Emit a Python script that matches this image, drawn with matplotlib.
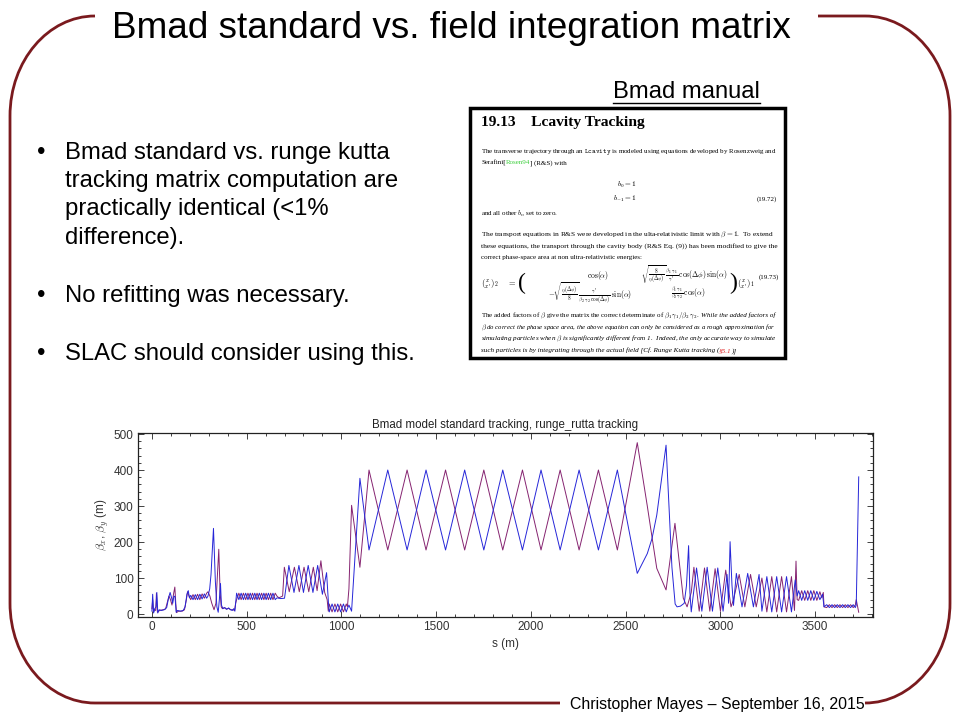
import matplotlib
matplotlib.use('Agg')
import matplotlib.pyplot as plt
from matplotlib.patches import Rectangle, PathPatch
from matplotlib.path import Path
from matplotlib.ticker import MultipleLocator

plt.rcParams['font.family'] = ['Liberation Sans', 'DejaVu Sans']
plt.rcParams['mathtext.fontset'] = 'cm'

# ---------------- data ----------------
blue_pts = [
    (0, 8), (4, 55), (9, 3), (15, 15), (22, 20), (26, 60), (31, 3), (38, 12), (50, 10), (65, 12), (78, 18),
    (88, 45), (96, 60), (104, 45), (110, 30), (116, 50), (122, 48), (128, 5), (135, 10), (150, 8), (165, 10),
    (175, 20), (185, 55), (192, 65), (198, 45),
    (205, 52), (217, 40), (229, 54), (241, 40), (253, 55), (265, 42), (277, 56), (289, 44),
    (296, 50), (305, 70), (312, 110), (325, 238), (335, 90),
    (343, 20), (350, 5), (356, 40), (362, 85), (367, 25), (375, 15), (385, 18), (395, 13), (405, 17), (415, 12),
    (425, 10), (432, 15), (438, 8),
    (447, 58), (459, 40), (471, 58), (483, 40), (495, 58), (507, 40), (519, 58), (531, 40), (543, 58),
    (555, 40), (567, 58), (579, 40), (591, 58), (603, 40), (615, 58), (627, 40), (639, 58), (651, 40),
    (660, 45), (680, 43), (700, 44), (723, 135), (750, 60), (776, 135), (800, 60), (825, 135), (850, 60),
    (875, 135), (900, 55), (922, 115), (932, 30), (936, 6),
    (951, 28), (966, 6), (981, 28), (996, 6), (1011, 28), (1026, 6),
    (1032, 15), (1040, 25), (1048, 15), (1054, 8), (1098, 377), (1146, 178), (1245, 400), (1347, 178),
    (1447, 400), (1550, 178), (1651, 400), (1752, 178), (1852, 400), (1956, 178), (2054, 400), (2155, 178),
    (2255, 400), (2357, 178), (2457, 400), (2562, 113), (2615, 168), (2640, 210), (2665, 275), (2714, 469),
    (2745, 130), (2762, 28), (2772, 20), (2790, 22), (2810, 30), (2822, 80), (2833, 190), (2840, 60), (2847, 6),
    (2875, 128), (2903, 8), (2931, 130), (2959, 8), (2987, 128), (3015, 8), (3036, 110), (3044, 30),
    (3052, 201), (3062, 80), (3070, 24),
    (3085, 113), (3115, 20), (3145, 113), (3175, 20), (3205, 110), (3220, 8),
    (3246, 104), (3272, 6), (3298, 104), (3324, 6), (3350, 104), (3376, 6), (3396, 95), (3406, 50),
    (3414, 65), (3430, 38), (3446, 65), (3462, 38), (3478, 65), (3494, 38), (3510, 63), (3526, 40),
    (3540, 55), (3548, 20),
    (3562, 26), (3576, 18), (3590, 26), (3604, 18), (3618, 26), (3632, 18), (3646, 26), (3660, 18),
    (3674, 26), (3688, 18), (3702, 26), (3713, 18),
    (3718, 25), (3731, 381),
]

purple_pts = [
    (0, 15), (4, 40), (8, 5), (14, 12), (20, 10), (24, 58), (29, 5), (40, 10), (60, 12), (72, 14), (80, 30),
    (90, 50), (98, 40), (106, 25), (114, 55), (121, 75), (126, 30), (130, 4), (140, 8), (160, 8), (172, 12),
    (182, 40), (188, 62), (196, 50),
    (205, 40), (217, 54), (229, 40), (241, 55), (253, 40), (265, 56), (277, 44), (289, 58),
    (296, 62), (306, 50), (316, 30), (328, 12), (338, 30),
    (346, 110), (353, 180), (360, 60), (366, 20), (372, 15), (382, 18), (392, 14), (404, 16), (416, 12),
    (428, 12), (436, 10), (442, 30),
    (447, 40), (459, 58), (471, 40), (483, 58), (495, 40), (507, 58), (519, 40), (531, 58), (543, 40),
    (555, 58), (567, 40), (579, 58), (591, 40), (603, 58), (615, 40), (627, 58), (639, 40), (651, 58),
    (660, 50), (670, 45), (690, 50), (699, 130), (725, 62), (752, 130), (778, 62), (803, 130), (828, 62),
    (852, 130), (872, 65), (892, 148), (912, 60), (925, 40), (931, 8),
    (936, 28), (951, 6), (966, 28), (981, 6), (996, 28), (1011, 6), (1026, 28),
    (1032, 20), (1040, 70), (1054, 302), (1098, 130), (1146, 400), (1245, 178), (1347, 400), (1447, 178),
    (1550, 400), (1651, 178), (1752, 400), (1852, 178), (1956, 400), (2054, 178), (2155, 400), (2255, 178),
    (2357, 400), (2457, 178), (2562, 476), (2615, 300), (2665, 127), (2714, 67), (2761, 252), (2805, 44),
    (2825, 20), (2847, 60),
    (2861, 130), (2889, 8), (2917, 128), (2945, 8), (2973, 126), (3001, 8), (3029, 122), (3057, 20),
    (3070, 40),
    (3100, 110), (3130, 20), (3160, 110), (3190, 20), (3220, 100),
    (3246, 6), (3272, 104), (3298, 6), (3324, 104), (3350, 6), (3376, 104), (3392, 10), (3400, 147),
    (3406, 40),
    (3414, 38), (3430, 65), (3446, 38), (3462, 65), (3478, 38), (3494, 65), (3510, 38), (3526, 62),
    (3536, 45), (3544, 60), (3548, 20),
    (3562, 18), (3576, 26), (3590, 18), (3604, 26), (3618, 18), (3632, 26), (3646, 18), (3660, 26),
    (3674, 18), (3688, 26), (3702, 18), (3713, 25),
    (3718, 40), (3731, 5),
]

x_ticks = [0, 500, 1000, 1500, 2000, 2500, 3000, 3500]
y_ticks = [0, 100, 200, 300, 400, 500]

slide_title = "Bmad standard vs. field integration matrix"
bullets = [
    ["Bmad standard vs. runge kutta", "tracking matrix computation are",
     "practically identical (<1%", "difference)."],
    ["No refitting was necessary."],
    ["SLAC should consider using this."],
]
chart_title = "Bmad model standard tracking, runge_rutta tracking"
footer = "Christopher Mayes \u2013 September 16, 2015"

BLUE = '#2626d8'
PURPLE = '#852370'
FRAME = '#7a1a1e'

# ---------------- figure ----------------
fig = plt.figure(figsize=(9.6, 7.2), dpi=100)
fig.patch.set_facecolor('white')
bg = fig.add_axes([0, 0, 1, 1])
bg.set_xlim(0, 960)
bg.set_ylim(720, 0)
bg.axis('off')
R = fig.canvas.get_renderer()


def put(x, y, pieces, width=None, size=None, gap=0.0, va='baseline', ha='left'):
    ws = []
    for s, kw in pieces:
        t = bg.text(0, 0, s, fontsize=10, **kw)
        ws.append(t.get_window_extent(R).width)
        t.remove()
    g10 = gap * 10 * 100 / 72
    total10 = sum(ws) + g10 * (len(pieces) - 1)
    f = width / total10 if width is not None else size / 10.0
    if ha == 'center':
        cx = x - total10 * f / 2
    elif ha == 'right':
        cx = x - total10 * f
    else:
        cx = x
    for (s, kw), w in zip(pieces, ws):
        bg.text(cx, y, s, fontsize=10 * f, va=va, ha='left', **kw)
        cx += (w + g10) * f
    return 10 * f


# frame
k = 0.5523
rx, ry = 85, 100
L, Rt, T, B = 10, 950, 16, 703
codes = [Path.MOVETO, Path.LINETO, Path.CURVE4, Path.CURVE4, Path.CURVE4,
         Path.LINETO, Path.CURVE4, Path.CURVE4, Path.CURVE4]
right_v = [(818, T), (Rt - rx, T), (Rt - rx + rx * k, T), (Rt, T + ry - ry * k), (Rt, T + ry),
           (Rt, B - ry), (Rt, B - ry + ry * k), (Rt - rx + rx * k, B), (Rt - rx, B)]
left_v = [(560, B), (L + rx, B), (L + rx - rx * k, B), (L, B - ry + ry * k), (L, B - ry),
          (L, T + ry), (L, T + ry - ry * k), (L + rx - rx * k, T), (L + rx, T)]
for v in (right_v, left_v):
    bg.add_patch(PathPatch(Path(v, codes), fill=False, edgecolor=FRAME, lw=2.0))

# slide title
put(112, 28, [(slide_title, {})], width=683, va='center')

# bullets
bsize = put(65, 153, [(bullets[0][0], {})], width=327, va='center')
ys = [[153, 181, 209, 238], [296], [354]]
for gi, (group, yy) in enumerate(zip(bullets, ys)):
    bg.text(37, yy[0], '\u2022', fontsize=bsize, va='center', ha='left')
    for i, (txt, y) in enumerate(zip(group, yy)):
        if gi == 0 and i == 0:
            continue
        bg.text(65, y, txt, fontsize=bsize, va='center', ha='left')

# Bmad manual label
put(613, 92, [("Bmad manual", {})], width=147, va='center')
bg.plot([613, 760], [103, 103], color='black', lw=1.0)

# manual box
bg.add_patch(Rectangle((470, 108), 315, 250, facecolor='white', edgecolor='black', lw=2.5))
SER = {'family': 'Liberation Serif'}
SERI = {'family': 'Liberation Serif', 'style': 'italic'}
put(481, 126, [("19.13    Lcavity Tracking", {'family': 'Liberation Serif', 'weight': 'bold'})], width=164)
fs = put(481, 153, [("The transverse trajectory through an $\\mathtt{Lcavity}$ is modeled using equations "
                     "developed by Rosenzweig and", SER)], width=294)
put(481, 164, [("Serafini[", SER), ("Rosen94", dict(SER, color='#3ccf3c')), ("] (R&S) with", SER)], size=fs)
put(636, 187, [("$b_0 = 1$", SER)], size=fs * 1.05, ha='right')
put(636, 201, [("$b_{-1} = 1$", SER)], size=fs * 1.05, ha='right')
put(777, 201, [("(19.72)", SER)], size=fs, ha='right')
put(481, 216, [("and all other $b_n$ set to zero.", SER)], size=fs)
put(481, 236, [("The transport equations in R&S were developed in the ulta-relativistic limit with "
                "$\\beta = 1$.  To extend", SER)], width=294)
put(481, 248, [("these equations, the transport through the cavity body (R&S Eq. (9)) has been "
                "modified to give the", SER)], width=294)
put(481, 259, [("correct phase-space area at non ultra-relativistic energies:", SER)], size=fs)

# matrix equation
ms = fs * 1.08
bg.text(481, 284, "$\\binom{x}{x'}_2$", fontsize=ms * 1.1, va='center', ha='left')
bg.text(507, 284, "$=$", fontsize=ms * 1.1, va='center', ha='left')
bg.text(518, 283, "(", fontsize=fs * 3.4, va='center', ha='left', family='Liberation Serif')
bg.text(598, 275, "$\\cos(\\alpha)$", fontsize=ms, va='center', ha='center')
bg.text(590, 293, "$-\\sqrt{\\frac{\\eta(\\Delta\\phi)}{8}}\\,\\frac{\\gamma'}{\\beta_2\\,\\gamma_2\\,"
        "\\cos(\\Delta\\phi)}\\,\\sin(\\alpha)$", fontsize=ms, va='center', ha='center')
bg.text(684, 275, "$\\sqrt{\\frac{8}{\\eta(\\Delta\\phi)}}\\,\\frac{\\beta_1\\,\\gamma_1}{\\gamma'}\\,"
        "\\cos(\\Delta\\phi)\\,\\sin(\\alpha)$", fontsize=ms, va='center', ha='center')
bg.text(688, 293, "$\\frac{\\beta_1\\,\\gamma_1}{\\beta_2\\,\\gamma_2}\\,\\cos(\\alpha)$",
        fontsize=ms, va='center', ha='center')
bg.text(729, 283, ")", fontsize=fs * 3.4, va='center', ha='left', family='Liberation Serif')
bg.text(737, 284, "$\\binom{x}{x'}_1$", fontsize=ms * 1.1, va='center', ha='left')
put(779, 279, [("(19.73)", SER)], size=fs, ha='right')

put(481, 317, [("The added factors of $\\beta$ give the matrix the correct determinate of "
                "$\\beta_1\\,\\gamma_1/\\beta_2\\,\\gamma_2$.", SER),
               ("While the added factors of", SERI)], width=294, gap=0.5)
put(481, 329, [("$\\beta$ do correct the phase space area, the above equation can only be considered "
                "as a rough approximation for", SERI)], width=294)
fs2 = put(481, 340, [("simulating particles when $\\beta$ is significantly different from 1.  Indeed, the "
                      "only accurate way to simulate", SERI)], width=294)
put(481, 352, [("such particles is by integrating through the actual field [Cf. Runge Kutta tracking (", SERI),
               ("\u00a75.1", dict(SERI, color='#e02020')), (")]", SERI)], size=fs2)

# footer
put(570, 704, [(footer, {})], width=295, va='center')

# ---------------- chart ----------------
ax = fig.add_axes([137.7 / 960, 1 - 617.3 / 720, 735.6 / 960, 184.0 / 720])
ax.plot([p[0] for p in purple_pts], [p[1] for p in purple_pts], color=PURPLE, lw=0.7)
ax.plot([p[0] for p in blue_pts], [p[1] for p in blue_pts], color=BLUE, lw=0.7)
ax.set_xlim(-75, 3808)
ax.set_ylim(-9, 502)
ax.set_xticks(x_ticks)
ax.set_yticks(y_ticks)
ax.xaxis.set_minor_locator(MultipleLocator(100))
ax.yaxis.set_minor_locator(MultipleLocator(20))
ax.tick_params(which='both', direction='in', top=True, right=True, labelsize=8.5,
               labelcolor='#333333', color='#222222', width=0.6)
ax.tick_params(which='major', length=4, pad=3)
ax.tick_params(which='minor', length=2)
for sp in ax.spines.values():
    sp.set_linewidth(0.9)
    sp.set_color('#222222')
ax.set_title(chart_title, fontsize=8.3, pad=4, color='#222222')
ax.set_xlabel('s (m)', fontsize=8.5, color='#333333', labelpad=3)
ax.set_ylabel('$\\beta_x$, $\\beta_y$ (m)', fontsize=8.5, color='#333333', labelpad=2)

fig.savefig('out.png', dpi=100, facecolor='white')
